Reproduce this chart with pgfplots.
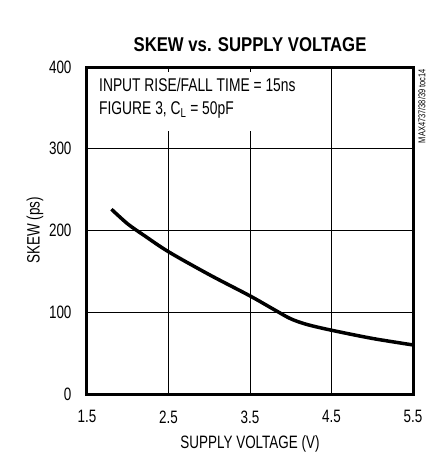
\documentclass[border=0pt]{standalone}
\usepackage{pgfplots}
\pgfplotsset{compat=1.18}
\usepackage{fontspec}
\setmainfont[FakeStretch=0.75]{Liberation Sans}
\newfontfamily\titlefont[FakeStretch=0.84]{Liberation Sans}
\begin{document}
\begin{tikzpicture}
\begin{axis}[
  at={(0,0)}, anchor=south west,
  scale only axis, width=326bp, height=327bp,
  xmin=1.5, xmax=5.5, ymin=0, ymax=400,
  xtick={1.5,2.5,3.5,4.5,5.5}, ytick={0,100,200,300,400},
  xticklabels={1.5,2.5,3.5,4.5,5.5},
  yticklabels={0,100,200,300,400},
  grid=major, grid style={black, line width=0.8bp},
  major tick length=0pt,
  axis line style={line width=3bp},
  tick label style={font=\fontsize{18}{20}\selectfont},
  xticklabel style={yshift=-13bp},
  yticklabel style={xshift=-12bp},
  clip=false,
]
\fill[white] ([xshift=2bp,yshift=-2bp]axis cs:1.5,400) rectangle (axis cs:4.47,322);
\draw[black, line width=0.8bp] (axis cs:2.5,400) -- ([yshift=-5bp]axis cs:2.5,400);
\draw[black, line width=0.8bp] (axis cs:3.5,400) -- ([yshift=-5bp]axis cs:3.5,400);
\addplot[black, line width=3.5bp, smooth] coordinates {
 (1.8,226) (2.0,208) (2.2,194) (2.5,174) (3.0,146) (3.5,120) (3.8,103)
 (4.0,92) (4.2,85) (4.5,78) (5.0,68) (5.5,60)};
\node[anchor=north west, font=\fontsize{18.5}{20}\selectfont, align=left, inner sep=0pt]
  at ([xshift=12bp,yshift=-11bp]axis cs:1.5,400)
  {INPUT RISE/FALL TIME = 15ns\\[3bp]FIGURE 3, C\textsubscript{L} = 50pF};
\node[rotate=90, anchor=north east, font=\fontsize{10}{11}\selectfont, inner sep=0pt]
  at ([xshift=5bp,yshift=-2bp]axis cs:5.5,400) {MAX4737/38/39 toc14};
\node[font=\titlefont\bfseries\fontsize{20}{22}\selectfont] at ([yshift=22bp]axis description cs:0.5,1) {SKEW vs. SUPPLY VOLTAGE};
\node[font=\fontsize{18}{20}\selectfont] at ([yshift=-50bp]axis description cs:0.5,0) {SUPPLY VOLTAGE (V)};
\node[rotate=90, font=\fontsize{18}{20}\selectfont] at ([xshift=-52bp]axis description cs:0,0.5) {SKEW (ps)};
\end{axis}
\pgfresetboundingbox
\path (-87bp,-62bp) rectangle (342bp,394bp);
\end{tikzpicture}
\end{document}
